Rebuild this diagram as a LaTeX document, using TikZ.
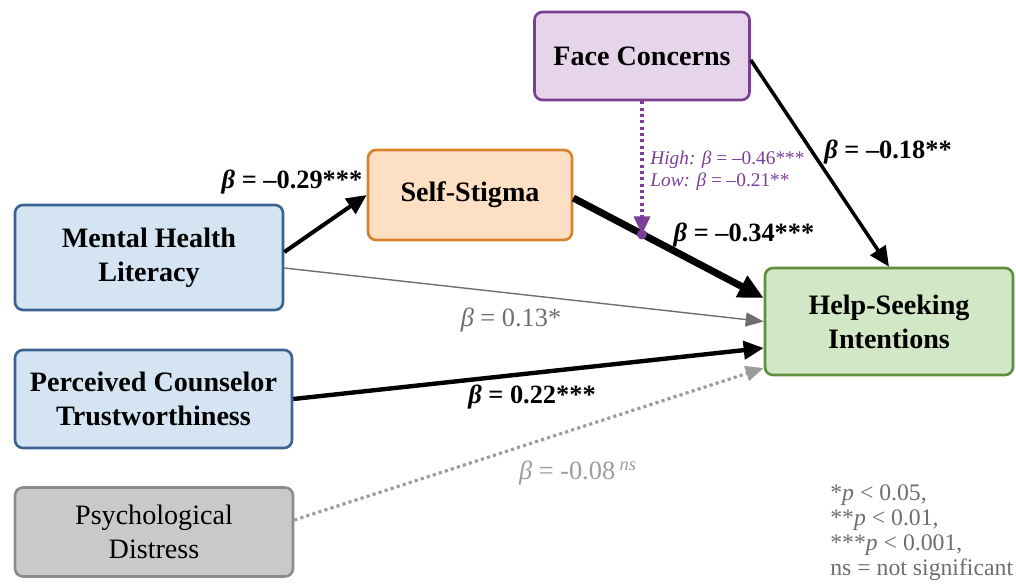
\documentclass[tikz,border=0pt]{standalone}
\usepackage{fontspec}
\setmainfont{Liberation Serif}
\usepackage{xcolor}
\usepackage{tikz}
\usetikzlibrary{arrows.meta,calc}

\definecolor{facefill}{HTML}{E6D5EA}
\definecolor{facedraw}{HTML}{7A3E93}
\definecolor{stigfill}{HTML}{FDDFC4}
\definecolor{stigdraw}{HTML}{D9822B}
\definecolor{bluefill}{HTML}{D5E4F2}
\definecolor{bluedraw}{HTML}{3B6391}
\definecolor{greenfill}{HTML}{D2E7C5}
\definecolor{greendraw}{HTML}{5E8F3E}
\definecolor{grayfill}{HTML}{C9C9C9}
\definecolor{graydraw}{HTML}{8C8C8C}
\definecolor{modcol}{HTML}{7B3F99}
\definecolor{midgray}{HTML}{6E6E6E}
\definecolor{lightgray}{HTML}{9C9C9C}

\newcommand{\bet}{\textit{β}}

\begin{document}
\begin{tikzpicture}[
    font=\fontsize{16}{19.4}\selectfont,
    box/.style={draw, line width=1.5pt, rounded corners=0.16cm, align=center, inner sep=0pt},
    arrow/.style={-{Triangle[length=0.4cm, width=0.36cm]}, line width=2.3pt},
    coef/.style={font=\fontsize{15}{18}\selectfont},
    dots/.style={line width=1.8pt, dash pattern=on 1.8pt off 1.8pt}
]
\useasboundingbox (0,0) rectangle (20.32,11.72);

% variables
\node[box, fill=facefill, draw=facedraw, minimum width=4.3cm, minimum height=1.76cm, font=\fontsize{16}{19.4}\selectfont\bfseries] (face) at (12.84,10.60) {Face Concerns};
\node[box, fill=stigfill, draw=stigdraw, minimum width=4.08cm, minimum height=1.8cm, font=\fontsize{16}{19.4}\selectfont\bfseries] (stigma) at (9.40,7.82) {Self-Stigma};
\node[box, fill=bluefill, draw=bluedraw, minimum width=5.36cm, minimum height=2.1cm, font=\fontsize{16}{19.4}\selectfont\bfseries] (mhl) at (2.98,6.57) {Mental Health\\Literacy};
\node[box, fill=bluefill, draw=bluedraw, minimum width=5.54cm, minimum height=1.96cm, font=\fontsize{16}{19.4}\selectfont\bfseries] (trust) at (3.07,3.74) {Perceived Counselor\\Trustworthiness};
\node[box, fill=grayfill, draw=graydraw, minimum width=5.56cm, minimum height=1.78cm] (distress) at (3.08,1.08) {Psychological\\Distress};
\node[box, fill=greenfill, draw=greendraw, minimum width=4.96cm, minimum height=2.14cm, font=\fontsize{16}{19.4}\selectfont\bfseries] (help) at (17.78,5.29) {Help-Seeking\\Intentions};

% paths
\draw[arrow] ([yshift=0.11cm]mhl.east) -- (stigma.west);
\draw[arrow, line width=4pt, -{Triangle[length=0.5cm, width=0.46cm]}] ([yshift=-0.06cm]stigma.east) -- coordinate[pos=0.365] (mod) ([yshift=0.47cm]help.west);
\draw[arrow, line width=2pt] ([yshift=-0.08cm]face.east) -- (help.north);
\draw[midgray, line width=0.8pt, -{Triangle[length=0.36cm, width=0.28cm]}] ([yshift=-0.21cm]mhl.east) -- (help.west);
\draw[arrow, line width=2.5pt] (trust.east) -- ([yshift=-0.53cm]help.west);
\draw[lightgray, dots, -{Triangle[length=0.36cm, width=0.3cm]}] ([yshift=0.24cm]distress.east) -- ([yshift=-0.93cm]help.west);

% moderation
\draw[modcol, dots, -{Triangle[length=0.36cm, width=0.32cm]}] (face.south) -- (face.south |- mod);
\fill[modcol] (face.south |- mod) circle (0.1cm);

% coefficients
\node[coef, font=\fontsize{15}{18}\selectfont\bfseries] (b29) at (5.84,8.08) {\bet\ = –0.29***};
\node[coef, font=\fontsize{15}{18}\selectfont\bfseries] (b18) at (17.76,8.68) {\bet\ = –0.18**};
\node[coef, font=\fontsize{15}{18}\selectfont\bfseries] (b34) at (14.88,7.02) {\bet\ = –0.34***};
\node[coef, text=midgray] (b13) at (10.22,5.32) {\bet\ = 0.13*};
\node[coef, font=\fontsize{15}{18}\selectfont\bfseries] (b22) at (10.64,3.78) {\bet\ = 0.22***};
\node[coef, text=lightgray] (b08) at (11.56,2.26) {\bet\ = -0.08\,\textsuperscript{\textit{ns}}};
\node[text=modcol, anchor=west, align=left, inner sep=0pt, font=\fontsize{11}{12.5}\selectfont] (modlab) at (13.0,8.30) {\textit{High:} \bet\ = –0.46***\\\textit{Low:} \bet\ = –0.21**};

% legend
\node[text=midgray, anchor=west, align=left, inner sep=0pt, font=\fontsize{13.5}{14.2}\selectfont] (legend) at (16.6,1.07) {*\textit{p} < 0.05,\\**\textit{p} < 0.01,\\***\textit{p} < 0.001,\\ns = not significant};

\end{tikzpicture}
\end{document}
